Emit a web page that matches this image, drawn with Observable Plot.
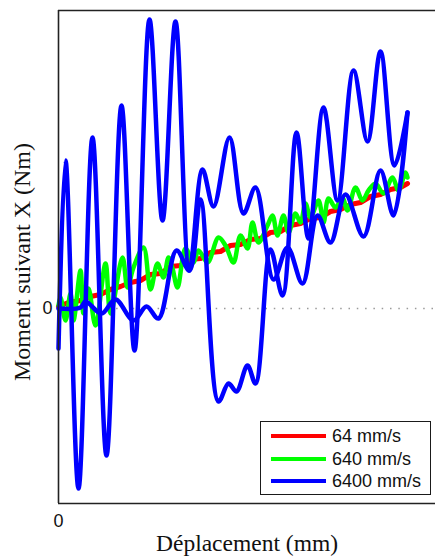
<!DOCTYPE html>
<html>
<head>
<meta charset="utf-8">
<script src="https://cdn.jsdelivr.net/npm/d3@7"></script>
<script src="https://cdn.jsdelivr.net/npm/@observablehq/plot@0.6"></script>
<style>
  body { margin: 0; background: #fff; }
  #wrap { position: relative; width: 435px; height: 556px; overflow: hidden; }
  #legend { position: absolute; left: 260px; top: 421px; width: 171px; height: 74px; box-sizing: border-box;
            border: 1.6px solid #1a1a1a; background: #fff; font-family: "Liberation Sans", Arial, sans-serif; font-size: 18px; color: #111; }
  .row { position: absolute; left: 0; height: 22px; width: 100%; }
  .sw { position: absolute; left: 10px; top: 9px; width: 55px; height: 4px; }
  .lb { position: absolute; left: 71px; top: 0; line-height: 22px; white-space: nowrap; }
</style>
</head>
<body>
<div id="wrap"></div>
<script>
// ---- data (x in 0.1 mm-ish units from origin, y moment units) ----
const xLabel = "Déplacement (mm)";
const yLabel = "Moment suivant X (Nm)";
const seriesNames = ["64 mm/s", "640 mm/s", "6400 mm/s"];
const seriesColors = ["#ff0000", "#00ff00", "#0000ff"];
const xTicks = [0];
const yTicks = [0];
const xDomain = [0, 377];
const yDomain = [-195, 298];

const red64 = [[0,2],[10,6],[22,8],[32,12],[42,14],[52,19],[62,22],[72,26],[82,28],[92,34],[102,35],[112,42],[122,43],[132,49],[142,50],[152,56],[162,57],[172,63],[182,64],[192,69],[202,70],[212,76],[222,77],[232,83],[242,85],[252,90],[262,91],[272,97],[282,99],[292,104],[302,106],[312,112],[322,114],[332,119],[342,121],[349,125]];

const green640 = [[0,3],[2,11],[7,-12],[12,15],[15,-12],[22,38],[25,-5],[30,20],[37,-17],[47,45],[52,-5],[64,51],[69,21],[75,41],[85,61],[92,19],[99,45],[105,31],[110,51],[114,40],[119,21],[127,60],[135,46],[140,58],[149,46],[160,71],[167,63],[175,46],[182,73],[189,60],[194,86],[200,66],[209,83],[214,93],[219,73],[225,93],[230,76],[237,95],[242,86],[247,105],[252,91],[260,108],[265,86],[270,110],[277,101],[284,111],[289,98],[297,121],[304,108],[310,118],[317,125],[325,115],[334,131],[340,118],[347,136],[349,131]];

const blue6400a = [[0,-40],[7,148],[20,-180],[34,171],[48,-147],[63,203],[76,-42],[91,289],[104,88],[117,287],[131,38],[144,139],[155,102],[171,171],[185,95],[197,121],[215,29],[229,61],[244,25],[259,93],[272,66],[287,114],[305,72],[322,138],[335,93],[349,196]];

const blue6400b = [[0,0],[22,1],[27,7],[43,-5],[57,9],[75,-12],[88,2],[100,-10],[118,58],[131,38],[142,109],[160,-93],[170,-75],[178,-83],[189,-57],[197,-75],[212,59],[224,13],[238,176],[250,70],[265,201],[279,108],[295,238],[309,167],[322,257],[336,143],[349,196]];

// ---- build ----
const toRows = (arr, run) => arr.map(([x, y]) => ({x, y, run}));
const redRows = toRows(red64, "r");
const greenRows = toRows(green640, "g");
const blueRows = [...toRows(blue6400a, "a"), ...toRows(blue6400b, "b")];

const serif = "'Liberation Serif', 'Times New Roman', serif";
const sans = "'Liberation Sans', Arial, sans-serif";

const chart = Plot.plot({
  width: 435, height: 556,
  marginLeft: 58, marginRight: 0, marginTop: 10, marginBottom: 53,
  x: {domain: xDomain},
  y: {domain: yDomain},
  style: {background: "#fff", overflow: "visible"},
  marks: [
    Plot.ruleY(yTicks, {stroke: "#9a9a9a", strokeWidth: 1.3, strokeDasharray: "1.5,6.8"}),
    Plot.line(redRows, {x: "x", y: "y", stroke: seriesColors[0], strokeWidth: 5, curve: "linear"}),
    Plot.line(greenRows, {x: "x", y: "y", stroke: seriesColors[1], strokeWidth: 4.5, curve: "catmull-rom"}),
    Plot.line(blueRows, {x: "x", y: "y", z: "run", stroke: seriesColors[2], strokeWidth: 4.5, curve: "catmull-rom"}),
    Plot.ruleX([xDomain[0]], {stroke: "#222", strokeWidth: 1.6}),
    Plot.ruleY(yDomain, {stroke: "#222", strokeWidth: 1.6}),
    Plot.axisY(yTicks, {tickSize: 0, tickPadding: 6, fontSize: 18, fontFamily: sans, fill: "#111", label: null}),
    Plot.axisX(xTicks, {tickSize: 0, tickPadding: 11, fontSize: 18, fontFamily: sans, fill: "#111", label: null}),
    Plot.text([yLabel], {text: d => d, frameAnchor: "left", textAnchor: "middle", lineAnchor: "middle", dx: -36, dy: 5, rotate: -90, fontSize: 24, fontFamily: serif, fill: "#111"}),
    Plot.text([xLabel], {text: d => d, frameAnchor: "bottom", textAnchor: "middle", dy: 47, fontSize: 23.5, fontFamily: serif, fill: "#111"})
  ]
});

const wrap = document.getElementById("wrap");
wrap.appendChild(chart);

const legend = document.createElement("div");
legend.id = "legend";
seriesNames.forEach((name, i) => {
  const row = document.createElement("div");
  row.className = "row";
  row.style.top = (3 + i * 22.5) + "px";
  const sw = document.createElement("div");
  sw.className = "sw";
  sw.style.background = seriesColors[i];
  const lb = document.createElement("div");
  lb.className = "lb";
  lb.textContent = name;
  row.appendChild(sw);
  row.appendChild(lb);
  legend.appendChild(row);
});
wrap.appendChild(legend);
</script>
</body>
</html>
